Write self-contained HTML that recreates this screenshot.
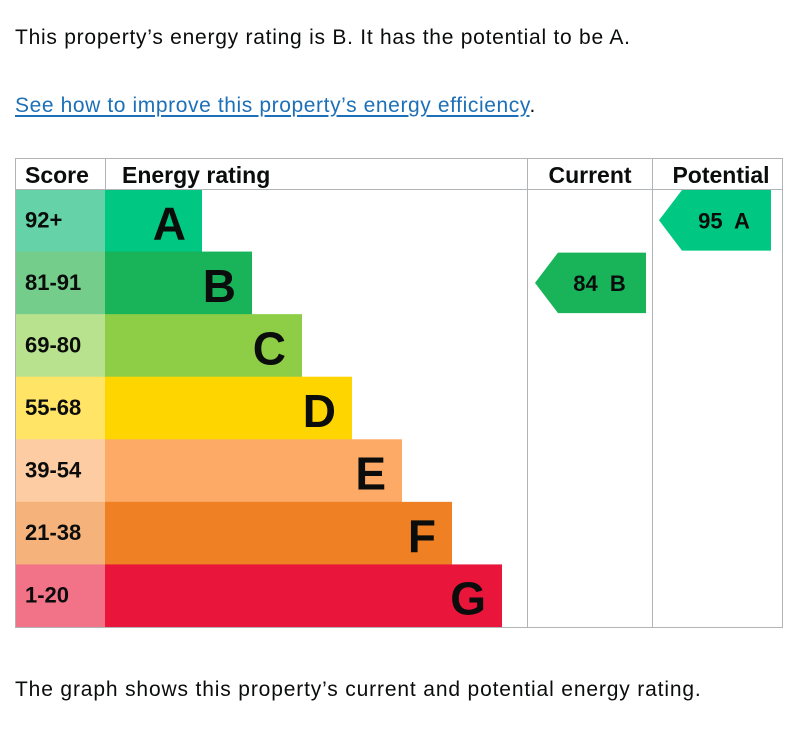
<!DOCTYPE html>
<html><head><meta charset="utf-8"><style>
body{margin:0;width:808px;height:737px;background:#fff;font-family:"Liberation Sans",sans-serif;color:#0b0c0c;position:relative;overflow:hidden}
.p{position:absolute;left:15px;margin:0;font-size:21px;letter-spacing:0.75px;white-space:nowrap}
a{color:#1d70b8;text-decoration:underline;text-underline-offset:3px}
svg{position:absolute;left:0;top:0}
svg text{white-space:pre}
</style></head><body>
<p class="p" style="top:26px">This property’s energy rating is B. It has the potential to be A.</p>
<p class="p" style="top:94px;letter-spacing:0.6px"><a href="#">See how to improve this property’s energy efficiency</a>.</p>
<svg id="chart" width="808" height="737"></svg>
<p class="p" style="top:678px;letter-spacing:0.85px">The graph shows this property’s current and potential energy rating.</p>
<script>
const bands=["A","B","C","D","E","F","G"];
const ranges=["92+","81-91","69-80","55-68","39-54","21-38","1-20"];
const mins=[92,81,69,55,39,21,1];
const barColors=["#00c781","#19b459","#8dce46","#ffd500","#fcaa65","#ef8023","#e9153b"];
const scoreColors=["#66d2a7","#75cd8b","#b9e28e","#ffe466","#fdcca3","#f5b37b","#f27388"];
const currentScore=84, potentialScore=95;
const svg=document.getElementById('chart');
const NS="http://www.w3.org/2000/svg";
function mk(t,a,p){const e=document.createElementNS(NS,t);for(const k in a)e.setAttribute(k,a[k]);(p||svg).appendChild(e);return e;}
const X0=15,X1=783,HT=158,HB=189,RH=62.57,SC=105,CUR=527,POT=652;
function rowY(i){return HB+i*RH;}
function barEnd(i){return 202+i*50;}
function bandOf(s){for(let i=0;i<mins.length;i++)if(s>=mins[i])return i;return 6;}
bands.forEach((b,i)=>{
  const y=rowY(i);
  let r=mk('rect',{x:X0,y:y,width:SC-X0,height:RH+0.5,fill:scoreColors[i]});
  
  
  let t=mk('text',{x:25,y:y+RH/2+7,'font-size':22,'font-weight':'bold',fill:'#0b0c0c'});
  t.textContent=ranges[i];
  
  
  let bar=mk('rect',{x:SC,y:y,width:barEnd(i)-SC,height:RH+0.5,fill:barColors[i]});
  
  
  let bt=mk('text',{x:barEnd(i)-16,y:y+RH/2+19,'font-size':46,'font-weight':'bold','text-anchor':'end',fill:'#0b0c0c'});
  bt.textContent=b;
  
  
});
const g=mk('g',{stroke:'#b1b4b6','stroke-width':1,fill:'none'});


mk('rect',{x:X0+0.5,y:HT+0.5,width:X1-X0-1,height:rowY(7)-HT},g);
mk('line',{x1:X0,y1:HB+0.5,x2:X1,y2:HB+0.5},g);
[SC,CUR,POT].forEach(x=>mk('line',{x1:x+0.5,y1:HT,x2:x+0.5,y2:(x===SC?HB:rowY(7))},g));
[["Score",25,'start',"header-score"],["Energy rating",122,'start',"header-energy-rating"],["Current",590,'middle',"header-current"],["Potential",721,'middle',"header-potential"]].forEach(h=>{
  let t=mk('text',{x:h[1],y:183,'font-size':23,'font-weight':'bold','text-anchor':h[2],fill:'#0b0c0c'});
  t.textContent=h[0];
  
  
});
function arrow(score,xl,xr,name){
  const i=bandOf(score),y=rowY(i)+1,h=RH-2;
  let p=mk('polygon',{points:`${xl},${y+h/2} ${xl+23},${y} ${xr},${y} ${xr},${y+h} ${xl+23},${y+h}`,fill:barColors[i]});
  
  
  let t=mk('text',{x:(xl+xr)/2+9,y:y+h/2+8,'font-size':22,'font-weight':'bold','text-anchor':'middle',fill:'#0b0c0c'});
  t.textContent=score+'  '+bands[i];
  
  
}
arrow(currentScore,535,646,'current');
arrow(potentialScore,659,771,'potential');
</script>
</body></html>
